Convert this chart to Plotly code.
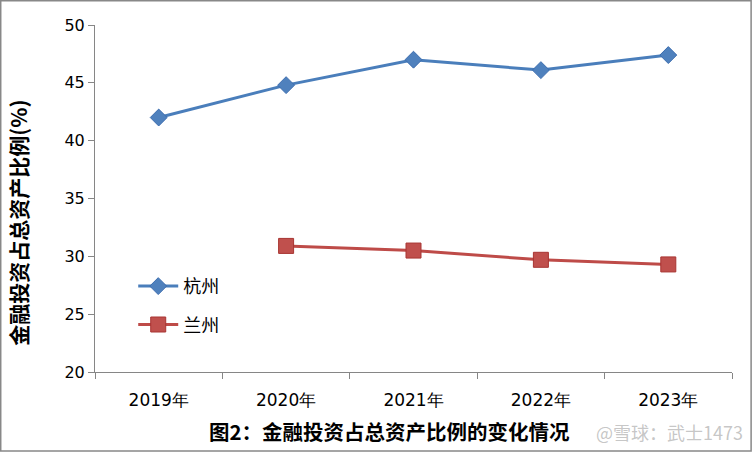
import plotly.graph_objects as go

years = ["2019年", "2020年", "2021年", "2022年", "2023年"]
hangzhou = [42.0, 44.8, 47.0, 46.1, 47.4]
lanzhou = [None, 30.9, 30.5, 29.7, 29.3]
y_ticks = [20, 25, 30, 35, 40, 45, 50]

fig = go.Figure()
fig.add_trace(go.Scatter(
    x=years, y=hangzhou, name="杭州", mode="lines+markers", legendgroup="hz",
    line=dict(color="#4A7EBB", width=3),
    marker=dict(symbol="diamond", size=13, color="#4F81BD",
                line=dict(color="#3C6DAF", width=1)),
))
fig.add_trace(go.Scatter(
    x=years, y=lanzhou, name="兰州", mode="lines+markers", legendgroup="lz",
    line=dict(color="#BE4B48", width=3),
    marker=dict(symbol="square", size=15, color="#C0504D",
                line=dict(color="#A83532", width=1)),
))

fig.update_layout(
    width=752, height=452,
    margin=dict(l=95, r=20, t=25, b=80),
    paper_bgcolor="white", plot_bgcolor="white",
    font=dict(family="DejaVu Sans", color="#000000"),
    showlegend=True,
    legend=dict(x=0.06, y=0.3, xanchor="left", yanchor="top",
                font=dict(family="Noto Sans CJK SC", size=18, color="#000"),
                bgcolor="rgba(0,0,0,0)", tracegroupgap=12, itemwidth=40,
                traceorder="grouped"),
    xaxis=dict(
        type="category", range=[-0.5, 4.5], tickson="boundaries",
        ticks="outside", ticklen=6, tickcolor="#868686",
        showline=True, linecolor="#868686", linewidth=1,
        showgrid=False, zeroline=False, ticklabelstandoff=13,
        tickfont=dict(family="DejaVu Sans", size=17, color="#000"),
    ),
    yaxis=dict(
        range=[20, 50], tickvals=y_ticks,
        ticks="outside", ticklen=6, tickcolor="#868686",
        showline=True, linecolor="#868686", linewidth=1,
        showgrid=False, zeroline=False,
        tickfont=dict(family="DejaVu Sans", size=16, color="#000"),
    ),
    annotations=[
        dict(text="<b>金融投资占总资产比例(%)</b>", textangle=-90,
             xref="paper", yref="paper", x=-0.121, y=0.43,
             xanchor="center", yanchor="middle", showarrow=False,
             font=dict(family="Noto Sans CJK SC", size=21, color="#000")),
        dict(text="<b>图2：金融投资占总资产比例的变化情况</b>",
             xref="paper", yref="paper", x=0.463, y=-0.12,
             xanchor="center", yanchor="top", showarrow=False,
             font=dict(family="Noto Sans CJK SC", size=20.5, color="#000")),
        dict(text="@雪球：武士1473",
             xref="paper", yref="paper", x=1.02, y=-0.13,
             xanchor="right", yanchor="top", showarrow=False,
             font=dict(family="Noto Sans CJK SC", size=18, color="rgba(150,150,150,0.55)")),
    ],
    shapes=[
        dict(type="rect", xref="paper", yref="paper",
             x0=-0.148, x1=1.03, y0=-0.228, y1=1.07,
             line=dict(color="#888888", width=1.5), fillcolor="rgba(0,0,0,0)", layer="below"),
    ],
)

fig.write_html("out.html")
